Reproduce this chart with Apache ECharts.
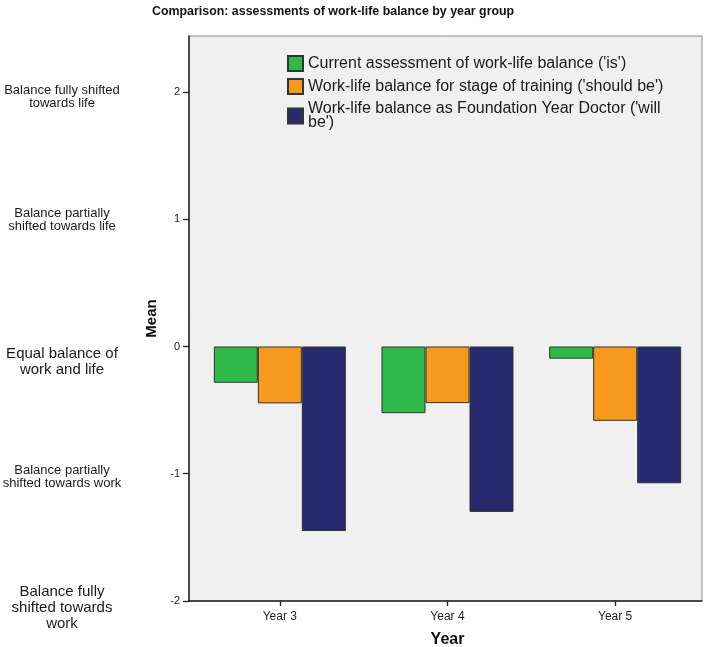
<!DOCTYPE html>
<html>
<head>
<meta charset="utf-8">
<script src="https://cdn.jsdelivr.net/npm/echarts@6/dist/echarts.min.js"></script>
<style>html,body{margin:0;padding:0;background:#fff;}#c{width:709px;height:647px;}</style>
</head>
<body>
<div id="c"></div>
<script>
const categories = ['Year 3', 'Year 4', 'Year 5'];
const seriesNames = [
  "Current assessment of work-life balance ('is')",
  "Work-life balance for stage of training ('should be')",
  "Work-life balance as Foundation Year Doctor ('will be')"
];
const isValues = [-0.285, -0.524, -0.096];
const shouldBeValues = [-0.447, -0.445, -0.584];
const willBeValues = [-1.45, -1.30, -1.075];
const yTicks = [-2, -1, 0, 1, 2];
const balanceLabels = [
  'Balance fully\nshifted towards\nwork',
  'Balance partially\nshifted towards work',
  'Equal balance of\nwork and life',
  'Balance partially\nshifted towards life',
  'Balance fully shifted\ntowards life'
];

const colors = ['#2fb84a', '#f7991f', '#282a70'];
const FONT = '"Liberation Sans", Arial, sans-serif';
// per-label text size and vertical nudge (px)
const labelSize = [15, 13, 15, 13, 13];
const labelShift = [7, 3.5, 15, 0.5, 4.5];

const rich = {};
labelSize.forEach(function (fs, i) {
  const lh = fs === 15 ? 16 : 13;
  rich['t' + i] = {fontFamily: FONT, fontSize: fs, lineHeight: lh, color: '#1a1a1a'};
  rich['s' + i] = {fontFamily: FONT, fontSize: 1, lineHeight: Math.max(1, 2 * Math.abs(labelShift[i])), color: 'rgba(0,0,0,0)'};
});

const chart = echarts.init(document.getElementById('c'), null, {renderer: 'canvas'});
const seriesData = [isValues, shouldBeValues, willBeValues];

chart.setOption({
  animation: false,
  textStyle: {fontFamily: FONT},
  title: {
    text: 'Comparison: assessments of work-life balance by year group',
    left: 152, top: 6, padding: 0,
    textStyle: {fontFamily: FONT, fontSize: 12.4, fontWeight: 'bold', color: '#111'}
  },
  legend: {
    orient: 'vertical',
    left: 287, top: 55, padding: 0,
    itemWidth: 15, itemHeight: 15, itemGap: 6,
    icon: 'rect',
    data: seriesNames,
    formatter: function (n) {
      return n === seriesNames[2] ? "Work-life balance as Foundation Year Doctor ('will\nbe')" : n;
    },
    textStyle: {fontFamily: FONT, fontSize: 16, color: '#1a1a1a', lineHeight: 14}
  },
  grid: [{
    left: 189, right: 7, top: 36, bottom: 46, outerBoundsMode: 'none',
    show: true, backgroundColor: '#f0f0f0', borderColor: '#8a8a8a', borderWidth: 1
  }, {
    left: 196, right: 10, top: 36, bottom: 46, outerBoundsMode: 'none', show: false
  }],
  xAxis: [{
    type: 'category', gridIndex: 0,
    data: categories,
    axisLine: {onZero: false, lineStyle: {color: '#222', width: 1.5}},
    axisTick: {show: false},
    axisLabel: {show: false}
  }, {
    type: 'category', gridIndex: 1,
    data: categories,
    name: 'Year',
    nameLocation: 'middle',
    nameGap: 31,
    nameTextStyle: {fontFamily: FONT, fontSize: 16, fontWeight: 'bold', color: '#111'},
    axisLine: {show: false, onZero: false},
    axisTick: {show: true, alignWithLabel: true, length: 5, lineStyle: {color: '#222', width: 1.3}},
    axisLabel: {fontFamily: FONT, fontSize: 12, color: '#222', margin: 10}
  }],
  yAxis: [{
    type: 'value', gridIndex: 0,
    min: -2, max: 2.44, interval: 1,
    name: 'Mean',
    nameLocation: 'middle',
    nameGap: 25,
    nameTextStyle: {fontFamily: FONT, fontSize: 15, fontWeight: 'bold', color: '#111'},
    splitLine: {show: false},
    axisLine: {show: true, lineStyle: {color: '#222', width: 1.5}},
    axisTick: {show: true, length: 6, customValues: yTicks, lineStyle: {color: '#222', width: 1.3}},
    axisLabel: {customValues: yTicks, fontFamily: FONT, fontSize: 11, color: '#222', margin: 9}
  }, {
    type: 'value', gridIndex: 0,
    min: -2, max: 2.44, interval: 1,
    position: 'left',
    offset: 127,
    splitLine: {show: false},
    axisLine: {show: false},
    axisTick: {show: false},
    axisLabel: {
      customValues: yTicks,
      margin: 0,
      align: 'center',
      formatter: function (v) {
        const i = yTicks.indexOf(Math.round(v));
        if (i < 0) return '';
        const body = balanceLabels[i].split('\n').map(function (l) {
          return '{t' + i + '|' + l + '}';
        }).join('\n');
        const spacer = '{s' + i + '| }';
        return labelShift[i] >= 0 ? spacer + '\n' + body : body + '\n' + spacer;
      },
      rich: rich
    }
  }, {
    type: 'value', gridIndex: 1,
    min: -2, max: 2.44, interval: 1,
    show: false,
    splitLine: {show: false}
  }],
  series: seriesNames.map(function (n, i) {
    return {
      name: n,
      type: 'bar',
      xAxisIndex: 1, yAxisIndex: 2,
      data: seriesData[i],
      barWidth: 44,
      barGap: '0%',
      itemStyle: {color: colors[i], borderColor: '#333', borderWidth: 1}
    };
  })
});
</script>
</body>
</html>
